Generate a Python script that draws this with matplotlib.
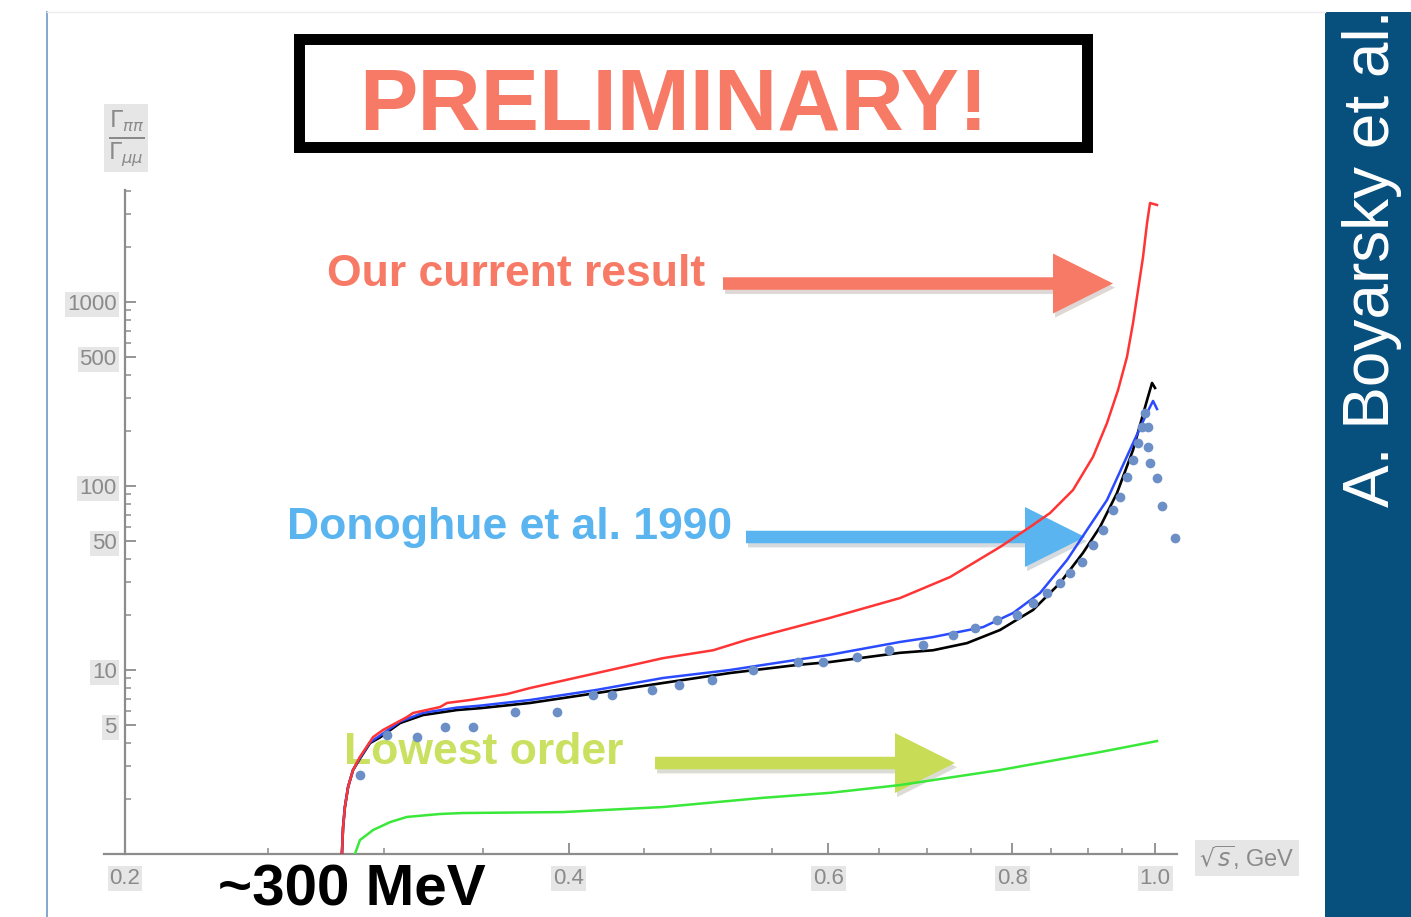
import numpy as np
import matplotlib
matplotlib.use('Agg')
import matplotlib.pyplot as plt
import matplotlib.patheffects as pe
from matplotlib.patches import Rectangle, FancyArrow
from matplotlib.ticker import FixedLocator, FixedFormatter, NullFormatter

plt.rcParams['font.family'] = ['Liberation Sans', 'DejaVu Sans']

# sqrt(s) in GeV vs. Gamma_pipi / Gamma_mumu
ours_x = [0.2792, 0.2807, 0.2812, 0.2820, 0.2834, 0.2856, 0.2887, 0.2947, 0.2993,
          0.3107, 0.3137, 0.3272, 0.3308, 0.3429, 0.3499, 0.3633, 0.3766, 0.4181,
          0.4636, 0.5013, 0.5286, 0.6018, 0.6713, 0.7259, 0.7849, 0.8226, 0.8487,
          0.8797, 0.9076, 0.9277, 0.9438, 0.9571, 0.9662, 0.9738, 0.9814, 0.9876,
          0.9922, 1.0031]
ours_y = [0.5, 1.01, 1.40, 1.80, 2.31, 2.86, 3.37, 4.32, 4.72,
          5.55, 5.84, 6.29, 6.62, 6.87, 7.05, 7.40, 7.98, 9.63,
          11.6, 12.8, 14.6, 19.2, 24.6, 32.0, 46.6, 59.9, 71.3,
          95.1, 144, 220, 332, 503, 769, 1162, 1756, 2688,
          3451, 3367]

black_x = [0.2795, 0.2807, 0.2812, 0.2820, 0.2834, 0.2856, 0.2887, 0.2933, 0.2979,
           0.3074, 0.3186, 0.3360, 0.3483, 0.3766, 0.4181, 0.4636, 0.5147, 0.5715,
           0.6018, 0.6713, 0.7068, 0.7454, 0.7849, 0.8264, 0.8620, 0.8935, 0.9176,
           0.9423, 0.9662, 0.9876, 0.9953, 1.0000]
black_y = [0.5, 1.01, 1.40, 1.80, 2.31, 2.86, 3.30, 4.01, 4.30,
           5.15, 5.69, 6.06, 6.20, 6.62, 7.50, 8.50, 9.63, 10.65,
           11.05, 12.4, 12.8, 14.0, 16.5, 21.2, 29.7, 43.3, 59.9,
           91.6, 157, 293, 363, 341]

donoghue_x = [0.2795, 0.2807, 0.2812, 0.2820, 0.2834, 0.2856, 0.2887, 0.2933, 0.2979,
              0.3074, 0.3186, 0.3360, 0.3483, 0.3766, 0.4181, 0.4636, 0.5147, 0.6018,
              0.6713, 0.7068, 0.7643, 0.8010, 0.8355, 0.8715, 0.8991, 0.9277, 0.9662,
              0.9876, 0.9969, 1.0031]
donoghue_y = [0.5, 1.01, 1.40, 1.80, 2.31, 2.86, 3.33, 4.05, 4.40,
              5.25, 5.85, 6.25, 6.40, 6.87, 7.80, 9.05, 10.0, 12.1,
              14.2, 15.1, 17.1, 20.4, 26.2, 39.6, 57.7, 83.9, 171,
              250, 290, 262]

lowest_x = [0.2836, 0.2887, 0.2947, 0.3026, 0.3107, 0.3272, 0.3392, 0.3965, 0.4636,
            0.5420, 0.6018, 0.6713, 0.7849, 0.9176, 1.0031]
lowest_y = [0.8, 1.19, 1.35, 1.49, 1.59, 1.65, 1.67, 1.69, 1.80,
            2.02, 2.15, 2.37, 2.86, 3.58, 4.11]

data_x = [0.2887, 0.3012, 0.3156, 0.3297, 0.3445, 0.3679, 0.3928, 0.4155, 0.4281,
          0.4557, 0.4753, 0.5005, 0.5336, 0.5724, 0.5952, 0.6277, 0.6599, 0.6959,
          0.7293, 0.7548, 0.7812, 0.8060, 0.8264, 0.8446, 0.8620, 0.8756, 0.8921,
          0.9076, 0.9219, 0.9364, 0.9467, 0.9571, 0.9662, 0.9738, 0.9799, 0.9845,
          0.9891, 0.9891, 0.9922, 1.0031, 1.0110, 1.0317]
data_y = [2.69, 4.43, 4.32, 4.90, 4.90, 5.91, 5.91, 7.31, 7.31,
          7.79, 8.29, 8.83, 10.0, 11.05, 11.05, 11.8, 12.8, 13.7,
          15.5, 16.9, 18.7, 19.9, 23.1, 26.2, 29.7, 33.7, 38.6,
          47.8, 57.7, 74.1, 87.1, 112, 139, 171, 209, 249,
          209, 163, 133, 110, 77.9, 52.2]

x_major = [0.2, 0.4, 0.6, 0.8, 1.0]
x_labels = ['0.2', '0.4', '0.6', '0.8', '1.0']
x_minor = [0.25, 0.3, 0.35, 0.45, 0.5, 0.55, 0.65, 0.7, 0.75, 0.85, 0.9, 0.95]
y_major = [5, 10, 50, 100, 500, 1000]
y_labels = ['5', '10', '50', '100', '500', '1000']
y_minor = [2, 3, 4, 6, 7, 8, 9, 20, 30, 40, 60, 70, 80, 90,
           200, 300, 400, 600, 700, 800, 900, 2000, 3000, 4000]

SALMON = '#F77A66'
SKY = '#5AB4F0'
LIME = '#C8DD55'
AXIS_GREY = '#8c8c8c'
LABEL_BG = '#e6e6e6'

W, H = 1411, 917
fig = plt.figure(figsize=(W / 100, H / 100), dpi=100)

# slide layer in pixel units
slide = fig.add_axes([0, 0, 1, 1], zorder=0)
slide.set_xlim(0, W)
slide.set_ylim(H, 0)
slide.axis('off')

slide.plot([47, 47], [12, H], color='#7098c6', lw=1.2)
slide.plot([47, 1325], [12, 12], color='#ececec', lw=1)
slide.add_patch(Rectangle((1325, 12), W - 1325, H - 12, color='#07507E', lw=0))
slide.text(1372, 507, 'A. Boyarsky et al.', rotation=90, ha='center', va='bottom',
           color='white', fontsize=46)

box = Rectangle((298.5, 38.5), 788, 108, facecolor='white', edgecolor='black',
                lw=7.9, joinstyle='miter')
box.set_path_effects([pe.SimplePatchShadow(offset=(1, -2.5), alpha=0.2), pe.Normal()])
slide.add_patch(box)
slide.text(674, 129, 'PRELIMINARY!', ha='center', va='baseline', color=SALMON,
           fontsize=63, fontweight='bold')

shadow = [pe.SimplePatchShadow(offset=(1.5, -3), alpha=0.18), pe.Normal()]


def arrow(x_tail, x_tip, y, color):
    a = FancyArrow(x_tail, y, x_tip - x_tail, 0, width=12.5, head_width=60,
                   head_length=60, length_includes_head=True, color=color, lw=0)
    a.set_path_effects(shadow)
    slide.add_patch(a)


slide.text(327, 286, 'Our current result', ha='left', va='baseline', color=SALMON,
           fontsize=32, fontweight='bold')
arrow(723, 1113, 283.5, SALMON)

slide.text(287, 539, 'Donoghue et al. 1990', ha='left', va='baseline', color=SKY,
           fontsize=32, fontweight='bold')
arrow(746, 1085, 537, SKY)

slide.text(344, 764, 'Lowest order', ha='left', va='baseline', color='#C9E060',
           fontsize=32, fontweight='bold')
arrow(655, 955, 763, LIME)

slide.text(218, 905, '~300 MeV', ha='left', va='baseline', color='black',
           fontsize=42, fontweight='bold')

# plot axes, log-log, placed so that 0.2 GeV and 1 sit at the axis corner
XLIM = (0.19, 1.04)
YLIM = (1, 4050)
px_left = 125 + 640 * np.log(XLIM[0] / 0.2)
px_right = 125 + 640 * np.log(XLIM[1] / 0.2)
py_bottom = 854
py_top = 854 - 184 * np.log10(YLIM[1])
ax = fig.add_axes([px_left / W, 1 - py_bottom / H, (px_right - px_left) / W,
                   (py_bottom - py_top) / H], zorder=1)
ax.set_facecolor('none')
ax.set_xscale('log')
ax.set_yscale('log')
ax.set_xlim(*XLIM)
ax.set_ylim(*YLIM)

ax.plot(black_x, black_y, color='black', lw=1.9, zorder=3)
ax.plot(donoghue_x, donoghue_y, color='#2B4BFF', lw=1.8, zorder=3)
ax.plot(ours_x, ours_y, color='#FF3535', lw=1.8, zorder=3)
ax.plot(lowest_x, lowest_y, color='#3AE83A', lw=1.8, zorder=3)
ax.plot(data_x, data_y, 'o', color='#6B8FC6', ms=7, mec='none', zorder=5, clip_on=False)

for side in ('top', 'right'):
    ax.spines[side].set_visible(False)
ax.spines['left'].set_position(('data', 0.2))
ax.spines['bottom'].set_bounds(0.1935, 1.035)
for side in ('left', 'bottom'):
    ax.spines[side].set_color(AXIS_GREY)
    ax.spines[side].set_linewidth(1.6)

ax.xaxis.set_major_locator(FixedLocator(x_major))
ax.xaxis.set_major_formatter(FixedFormatter(x_labels))
ax.xaxis.set_minor_locator(FixedLocator(x_minor))
ax.xaxis.set_minor_formatter(NullFormatter())
ax.yaxis.set_major_locator(FixedLocator(y_major))
ax.yaxis.set_major_formatter(FixedFormatter(y_labels))
ax.yaxis.set_minor_locator(FixedLocator(y_minor))
ax.yaxis.set_minor_formatter(NullFormatter())

ax.tick_params(which='major', direction='in', length=8, width=1.3, color=AXIS_GREY,
               labelsize=16, labelcolor='#8a8a8a')
ax.tick_params(which='minor', direction='in', length=4.5, width=1.1, color=AXIS_GREY)
ax.tick_params(axis='x', which='major', pad=10)
ax.tick_params(axis='y', which='major', pad=6)

for lbl in ax.get_xticklabels() + ax.get_yticklabels():
    lbl.set_bbox(dict(facecolor=LABEL_BG, edgecolor='none', pad=1.5))

slide.text(126, 138, r'$\frac{\Gamma_{\pi\pi}}{\Gamma_{\mu\mu}}$', ha='center', va='center',
           color='#8a8a8a', fontsize=24,
           bbox=dict(facecolor=LABEL_BG, edgecolor='none', pad=3))
slide.text(1199, 858, r'$\sqrt{s}$, GeV', ha='left', va='center', color='#8a8a8a',
           fontsize=17, bbox=dict(facecolor=LABEL_BG, edgecolor='none', pad=3))

fig.savefig('out.png', dpi=100)
